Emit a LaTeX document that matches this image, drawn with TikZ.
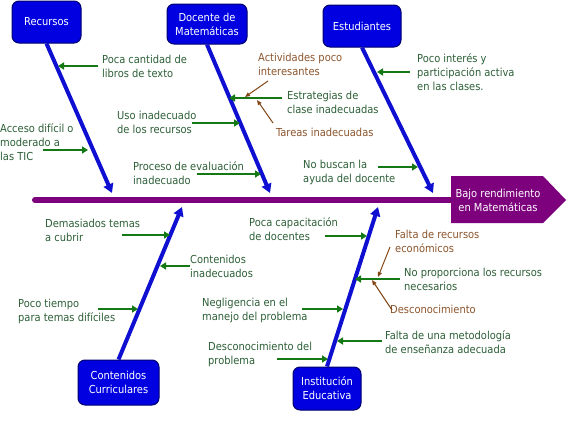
\documentclass[tikz,border=0pt]{standalone}
\usepackage{fontspec}
\setmainfont{DejaVu Sans Condensed}
\usetikzlibrary{arrows.meta}
\definecolor{boxblue}{RGB}{0,0,225}
\definecolor{boxedge}{RGB}{0,0,110}
\definecolor{bonecol}{RGB}{15,15,210}
\definecolor{garr}{RGB}{20,120,20}
\definecolor{gtext}{RGB}{45,95,55}
\definecolor{btext}{RGB}{140,85,45}
\definecolor{barr}{RGB}{130,70,20}
\definecolor{spinecol}{RGB}{125,0,125}
\begin{document}
\begin{tikzpicture}[x=1pt,y=-1pt,
  cat/.style={draw=boxedge, line width=1pt, fill=boxblue, rounded corners=7pt,
    text=white, font=\fontsize{11}{14}\selectfont, align=center, inner sep=0pt},
  lbl/.style={anchor=west, inner sep=0pt, align=left, text=gtext,
    font=\fontsize{11}{14}\selectfont},
  blbl/.style={lbl, text=btext},
  bone/.style={draw=bonecol, line width=4pt, -{Triangle[length=9pt,width=10pt]}},
  garrow/.style={draw=garr, line width=2pt, -{Triangle[length=6pt,width=7pt]}},
  barrow/.style={draw=barr, line width=1pt, -{Triangle[length=5pt,width=4pt]}},
  spine/.style={draw=spinecol, line width=6pt, line cap=round}
]
\useasboundingbox[fill=white] (0,0) rectangle (584,431);

% head
\fill[spinecol] (451,176) -- (543,176) -- (566,200) -- (543,223) -- (451,223) -- cycle;
\node[text=white, align=center, font=\fontsize{11}{14}\selectfont, inner sep=0pt]
  (head) at (498,200) {Bajo rendimiento\\en Matemáticas};
\coordinate (spinestart) at (35,200);
\coordinate (spineend) at (452,200);
\draw[spine] (spinestart) -- (spineend);

% category boxes
\node[cat, minimum width=69pt, minimum height=42pt] (rec) at (46.5,22) {Recursos};
\node[cat, minimum width=80pt, minimum height=40pt] (doc) at (207,24) {Docente de\\Matemáticas};
\node[cat, minimum width=78pt, minimum height=42pt] (est) at (362,26) {Estudiantes};
\node[cat, minimum width=81pt, minimum height=45pt] (cont) at (118.5,382.5) {Contenidos\\Curriculares};
\node[cat, minimum width=68pt, minimum height=43pt] (inst) at (327,388.5) {Institución\\Educativa};

% bone ends
\coordinate (recE) at (112,193);
\coordinate (docE) at (270,193);
\coordinate (estE) at (433,193);
\coordinate (contE) at (182,207);
\coordinate (instE) at (378,207);
\draw[bone] (rec.south) -- (recE);
\draw[bone] (doc.south) -- (docE);
\draw[bone] (est.south) -- (estE);
\draw[bone] (cont.north) -- (contE);
\draw[bone] (inst.north) -- (instE);

% labels top
\node[lbl] (l1) at (102,66) {Poca cantidad de\\libros de texto};
\node[lbl] (l2) at (0,142) {Acceso difícil o\\moderado a\\las TIC};
\node[lbl] (l3) at (117,122.5) {Uso inadecuado\\de los recursos};
\node[lbl] (l4) at (133,173) {Proceso de evaluación\\inadecuado};
\node[blbl] (l5) at (258,64.5) {Actividades poco\\interesantes};
\node[lbl] (l6) at (287,102.5) {Estrategias de\\clase inadecuadas};
\node[blbl] (l7) at (276,132) {Tareas inadecuadas};
\node[lbl] (l8) at (303,172.5) {No buscan la\\ayuda del docente};
\node[lbl] (l9) at (417,72.5) {Poco interés y\\participación activa\\en las clases.};

% labels bottom
\node[lbl] (m1) at (45,230) {Demasiados temas\\a cubrir};
\node[lbl] (m2) at (190,266.5) {Contenidos\\inadecuados};
\node[lbl] (m3) at (18,311) {Poco tiempo\\para temas difíciles};
\node[lbl] (m4) at (249,229.5) {Poca capacitación\\de docentes};
\node[lbl] (m5) at (202,310) {Negligencia en el\\manejo del problema};
\node[lbl] (m6) at (208,354.5) {Desconocimiento del\\problema};
\node[blbl] (m7) at (395,241.5) {Falta de recursos\\económicos};
\node[lbl] (m8) at (404,279.5) {No proporciona los recursos\\necesarios};
\node[blbl] (m9) at (390,309) {Desconocimiento};
\node[lbl] (m10) at (385,342) {Falta de una metodología\\de enseñanza adecuada};

% arrow coordinates
\coordinate (a1s) at (98,66);   \coordinate (a1e) at (58,66);
\coordinate (a2s) at (43,150);  \coordinate (a2e) at (88,150);
\coordinate (a3s) at (192,123); \coordinate (a3e) at (240,123);
\coordinate (a4s) at (197,174); \coordinate (a4e) at (261,174);
\coordinate (a5s) at (268,81);  \coordinate (a5e) at (245,97);
\coordinate (a6s) at (282,98);  \coordinate (a6e) at (229,98);
\coordinate (a7s) at (273,123); \coordinate (a7e) at (257,100);
\coordinate (a8s) at (378,167); \coordinate (a8e) at (418,167);
\coordinate (a9s) at (410,72);  \coordinate (a9e) at (377,72);

\coordinate (b1s) at (122,235); \coordinate (b1e) at (170,235);
\coordinate (b2s) at (190,266); \coordinate (b2e) at (160,266);
\coordinate (b3s) at (98,309);  \coordinate (b3e) at (138,309);
\coordinate (b4s) at (325,236); \coordinate (b4e) at (367,236);
\coordinate (b5s) at (302,309); \coordinate (b5e) at (343,309);
\coordinate (b6s) at (277,359); \coordinate (b6e) at (328,359);
\coordinate (b7s) at (390,247); \coordinate (b7e) at (378,277);
\coordinate (b8s) at (400,279); \coordinate (b8e) at (355,279);
\coordinate (b9s) at (392,310); \coordinate (b9e) at (372,280);
\coordinate (b10s) at (382,341); \coordinate (b10e) at (337,341);

\draw[garrow] (a1s) -- (a1e);
\draw[garrow] (a2s) -- (a2e);
\draw[garrow] (a3s) -- (a3e);
\draw[garrow] (a4s) -- (a4e);
\draw[garrow] (a6s) -- (a6e);
\draw[barrow] (a5s) -- (a5e);
\draw[barrow] (a7s) -- (a7e);
\draw[garrow] (a8s) -- (a8e);
\draw[garrow] (a9s) -- (a9e);

\draw[garrow] (b1s) -- (b1e);
\draw[garrow] (b2s) -- (b2e);
\draw[garrow] (b3s) -- (b3e);
\draw[garrow] (b4s) -- (b4e);
\draw[garrow] (b5s) -- (b5e);
\draw[garrow] (b6s) -- (b6e);
\draw[garrow] (b8s) -- (b8e);
\draw[barrow] (b7s) -- (b7e);
\draw[barrow] (b9s) -- (b9e);
\draw[garrow] (b10s) -- (b10e);
\end{tikzpicture}
\end{document}
